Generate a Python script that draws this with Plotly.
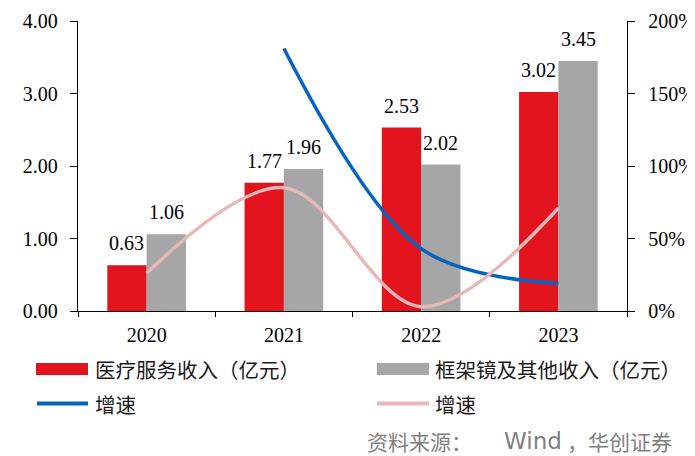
import plotly.graph_objects as go

years = ["2020", "2021", "2022", "2023"]
medical = [0.63, 1.77, 2.53, 3.02]
frames = [1.06, 1.96, 2.02, 3.45]
medical_growth_years = ["2021", "2022", "2023"]
medical_growth = [1.81, 0.43, 0.19]
frames_growth = [0.26, 0.85, 0.03, 0.71]

name_med = "医疗服务收入（亿元）"
name_frame = "框架镜及其他收入（亿元）"
name_growth = "增速"
source_parts = ["资料来源：", "Wind", "，华创证券"]

RED = "#E3131E"
GRAY = "#A6A6A6"
BLUE = "#0563C1"
PINK = "#E6B9B8"
SERIF = "Liberation Serif, Times New Roman, serif"
CJK = "Noto Sans CJK SC, Microsoft YaHei, sans-serif"

# page body has an 8px margin: figure occupies window pixels 8..695 / 8..456
OFF = 8
W, H = 695 - OFF, 456 - OFF
PLOT_LEFT, PLOT_RIGHT, PLOT_TOP, PLOT_BOTTOM = 78, 627, 21, 311  # window pixels
L = PLOT_LEFT - OFF
R = W - (PLOT_RIGHT - OFF)
T = PLOT_TOP - OFF
B = H - (PLOT_BOTTOM - OFF)
pw, ph = W - L - R, H - T - B
BARGAP = 0.427
bar_px = pw / len(years) * (1 - BARGAP) / 2


def px(x):
    return (x - OFF - L) / pw


def py(y):
    return (H - B - (y - OFF)) / ph


fig = go.Figure()
fig.add_trace(go.Bar(x=years, y=medical, name=name_med, marker=dict(color=RED, line=dict(width=0)),
                     showlegend=False))
fig.add_trace(go.Bar(x=years, y=frames, name=name_frame, marker=dict(color=GRAY, line=dict(width=0)),
                     showlegend=False))
fig.add_trace(go.Scatter(x=medical_growth_years, y=medical_growth, name=name_growth, yaxis="y2",
                         mode="lines", line=dict(color=BLUE, width=3.5, shape="spline", smoothing=1.0),
                         showlegend=False))
fig.add_trace(go.Scatter(x=years, y=frames_growth, name=name_growth, yaxis="y2",
                         mode="lines", line=dict(color=PINK, width=3.5, shape="spline", smoothing=1.0),
                         showlegend=False))

annotations = []
for vals, sign in ((medical, -1), (frames, 1)):
    for i, v in enumerate(vals):
        annotations.append(dict(text=f"{v:.2f}", x=i, y=v, xref="x", yref="y", xanchor="center",
                                yanchor="bottom", xshift=sign * bar_px / 2, yshift=9, showarrow=False,
                                font=dict(family=SERIF, size=20, color="black")))

shapes = [
    dict(type="rect", xref="paper", yref="paper", x0=px(36), x1=px(88), y0=py(375), y1=py(363),
         fillcolor=RED, line=dict(width=0)),
    dict(type="rect", xref="paper", yref="paper", x0=px(377), x1=px(429), y0=py(375), y1=py(363),
         fillcolor=GRAY, line=dict(width=0)),
    dict(type="line", xref="paper", yref="paper", x0=px(37), x1=px(88), y0=py(403.5), y1=py(403.5),
         line=dict(color=BLUE, width=4)),
    dict(type="line", xref="paper", yref="paper", x0=px(377), x1=px(429), y0=py(403.5), y1=py(403.5),
         line=dict(color=PINK, width=4)),
]

legend_font = dict(family=CJK, size=20.5, color="#1a1a1a")
src_font = dict(family=CJK, size=21, color="#7F7F7F")
SRC_Y = 441
annotations += [
    dict(text=name_med, x=px(93), y=py(369), xref="paper", yref="paper", xanchor="left", yanchor="middle",
         showarrow=False, font=legend_font),
    dict(text=name_frame, x=px(433), y=py(369), xref="paper", yref="paper", xanchor="left", yanchor="middle",
         showarrow=False, font=legend_font),
    dict(text=name_growth, x=px(93), y=py(404), xref="paper", yref="paper", xanchor="left", yanchor="middle",
         showarrow=False, font=legend_font),
    dict(text=name_growth, x=px(433), y=py(404), xref="paper", yref="paper", xanchor="left", yanchor="middle",
         showarrow=False, font=legend_font),
    dict(text=source_parts[0], x=px(365), y=py(SRC_Y), xref="paper", yref="paper", xanchor="left",
         yanchor="middle", showarrow=False, font=src_font),
    dict(text=source_parts[1], x=px(533), y=py(SRC_Y), xref="paper", yref="paper", xanchor="center",
         yanchor="middle", showarrow=False, font=dict(family="DejaVu Sans", size=23, color="#7F7F7F")),
    dict(text=source_parts[2], x=px(674), y=py(SRC_Y), xref="paper", yref="paper", xanchor="right",
         yanchor="middle", showarrow=False, font=src_font),
]

axis_font = dict(family=SERIF, size=20, color="black")
fig.update_layout(
    width=W, height=H,
    margin=dict(l=L, r=R, t=T, b=B, pad=0),
    paper_bgcolor="white", plot_bgcolor="white",
    barmode="group", bargap=BARGAP, bargroupgap=0,
    showlegend=False,
    shapes=shapes, annotations=annotations,
    xaxis=dict(type="category", range=[-0.5, 3.5], autorange=False, automargin=False,
               showline=True, linecolor="black", linewidth=1.3,
               ticks="outside", tickson="boundaries", ticklen=5, tickcolor="black", tickwidth=1.3,
               tickfont=axis_font, tickangle=0, showgrid=False, zeroline=False,
               ticklabelstandoff=6),
    yaxis=dict(range=[0, 4], dtick=1, tickformat=".2f", automargin=False,
               showline=True, linecolor="black", linewidth=1.3,
               ticks="outside", ticklen=7, tickcolor="black", tickwidth=1.3,
               tickfont=axis_font, showgrid=False, zeroline=False,
               ticklabelstandoff=8),
    yaxis2=dict(range=[0, 2], dtick=0.5, tickformat=".0%", overlaying="y", side="right", automargin=False,
                showline=True, linecolor="black", linewidth=1.3,
                ticks="outside", ticklen=7, tickcolor="black", tickwidth=1.3,
                tickfont=axis_font, showgrid=False, zeroline=False,
                ticklabelstandoff=9),
)

fig.write_html("out.html")
